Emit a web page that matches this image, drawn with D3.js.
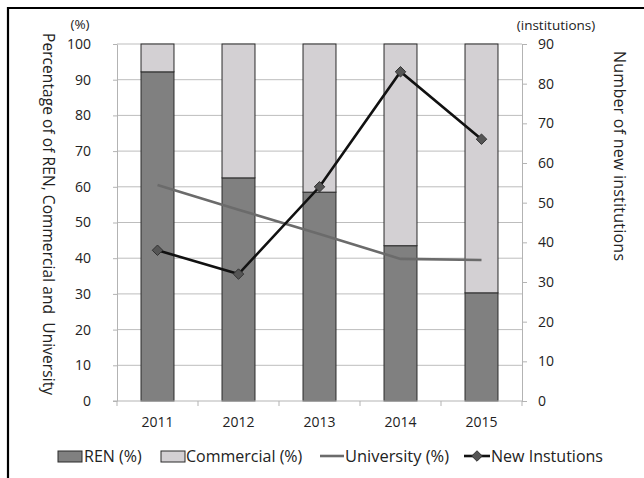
<!DOCTYPE html>
<html>
<head>
<meta charset="utf-8">
<script src="https://cdn.jsdelivr.net/npm/d3@7"></script>
<style>
  body { margin: 0; background: #fff; }
  svg { display: block; font-family: "Open Sans", sans-serif; }
  .axis text { fill: #222; font-size: 14px; font-family: "Open Sans", sans-serif; }
  .axis line, .axis path { stroke: #b3b3b3; }
</style>
</head>
<body>
<svg width="644" height="478"></svg>
<script>
// Data
var years = ["2011", "2012", "2013", "2014", "2015"];
var renPct = [92.2, 62.5, 58.5, 43.5, 30.3];
var commercialPct = [7.8, 37.5, 41.5, 56.5, 69.7];
var universityPct = [60.5, 53.6, 46.8, 39.8, 39.5];
var newInstitutions = [38, 32, 54, 83, 66];
var leftTicks = [0, 10, 20, 30, 40, 50, 60, 70, 80, 90, 100];
var rightTicks = [0, 10, 20, 30, 40, 50, 60, 70, 80, 90];

var svg = d3.select("svg"),
    width = +svg.attr("width"),
    height = +svg.attr("height");

var margin = {left: 117, right: 122, top: 44, bottom: 77};
var x0 = margin.left, x1 = width - margin.right,
    y0 = height - margin.bottom, y1 = margin.top;

// frame (left + top edges visible)
svg.append("line").attr("x1", 8).attr("x2", 8).attr("y1", 7).attr("y2", height)
  .attr("stroke", "#000").attr("stroke-width", 2.2);
svg.append("line").attr("x1", 7).attr("x2", width).attr("y1", 8).attr("y2", 8)
  .attr("stroke", "#000").attr("stroke-width", 2.2);

var x = d3.scaleBand().domain(years).range([x0, x1])
    .paddingInner(0.593).paddingOuter(0.2965);
var y = d3.scaleLinear().domain([0, 100]).range([y0, y1]);
var y2 = d3.scaleLinear().domain([0, 90]).range([y0, y1]);

// gridlines
svg.append("g").selectAll("line")
  .data(leftTicks.slice(1))
  .enter().append("line")
    .attr("x1", x0).attr("x2", x1)
    .attr("y1", function(d) { return y(d); })
    .attr("y2", function(d) { return y(d); })
    .attr("stroke", "#bdbdbd").attr("stroke-width", 1);

// left axis
svg.append("g").attr("class", "axis")
  .attr("transform", "translate(" + x0 + ",0)")
  .call(d3.axisLeft(y).tickValues(leftTicks).tickSize(4).tickPadding(22).tickSizeOuter(0));

// right axis
svg.append("g").attr("class", "axis")
  .attr("transform", "translate(" + x1 + ",0)")
  .call(d3.axisRight(y2).tickValues(rightTicks).tickSize(5).tickPadding(11).tickSizeOuter(0));

// stacked bars
var bars = svg.append("g");
bars.selectAll("rect.ren")
  .data(years)
  .enter().append("rect")
    .attr("class", "ren")
    .attr("x", function(d) { return x(d); })
    .attr("width", x.bandwidth())
    .attr("y", function(d, i) { return y(renPct[i]); })
    .attr("height", function(d, i) { return y0 - y(renPct[i]); })
    .attr("fill", "#808080").attr("stroke", "#2b2b2b").attr("stroke-width", 1);
bars.selectAll("rect.com")
  .data(years)
  .enter().append("rect")
    .attr("class", "com")
    .attr("x", function(d) { return x(d); })
    .attr("width", x.bandwidth())
    .attr("y", function(d, i) { return y(renPct[i] + commercialPct[i]); })
    .attr("height", function(d, i) { return y(renPct[i]) - y(renPct[i] + commercialPct[i]); })
    .attr("fill", "#d3d0d3").attr("stroke", "#2b2b2b").attr("stroke-width", 1);

// x axis
var step = x.step();
var xb = svg.append("g").attr("class", "axis");
xb.append("line").attr("x1", x0 - 4).attr("x2", x1).attr("y1", y0).attr("y2", y0)
  .attr("stroke", "#b3b3b3");
xb.selectAll("line.tk")
  .data(d3.range(years.length + 1))
  .enter().append("line")
    .attr("class", "tk")
    .attr("x1", function(i) { return x0 + i * step; })
    .attr("x2", function(i) { return x0 + i * step; })
    .attr("y1", y0).attr("y2", y0 + 5);
xb.selectAll("text")
  .data(years)
  .enter().append("text")
    .attr("x", function(d) { return x(d) + x.bandwidth() / 2; })
    .attr("y", y0 + 26)
    .attr("text-anchor", "middle")
    .text(function(d) { return d; });

// university line
var cx = function(d, i) { return x(years[i]) + x.bandwidth() / 2; };
svg.append("path")
  .datum(universityPct)
  .attr("d", d3.line().x(cx).y(function(d) { return y(d); }))
  .attr("fill", "none").attr("stroke", "#6b6b6b").attr("stroke-width", 2.6);

// new institutions line
svg.append("path")
  .datum(newInstitutions)
  .attr("d", d3.line().x(cx).y(function(d) { return y2(d); }))
  .attr("fill", "none").attr("stroke", "#111").attr("stroke-width", 2.6);

var diamond = d3.symbol().type(d3.symbolDiamond2).size(70);
svg.append("g").selectAll("path")
  .data(newInstitutions)
  .enter().append("path")
    .attr("d", diamond)
    .attr("transform", function(d, i) { return "translate(" + cx(d, i) + "," + y2(d) + ")"; })
    .attr("fill", "#555").attr("stroke", "#333").attr("stroke-width", 1);

// unit labels
svg.append("text").attr("x", 80).attr("y", 29).attr("text-anchor", "middle")
  .attr("font-size", 13.5).attr("fill", "#222").text("(%)");
svg.append("text").attr("x", 556).attr("y", 30).attr("text-anchor", "middle")
  .attr("font-size", 13.5).attr("fill", "#222").text("(institutions)");

// axis titles (rotated clockwise)
svg.append("text")
  .attr("transform", "translate(43,214) rotate(90)")
  .attr("text-anchor", "middle")
  .attr("font-size", 15.5).attr("fill", "#222")
  .attr("textLength", 362).attr("lengthAdjust", "spacing")
  .attr("xml:space", "preserve")
  .text("Percentage of of REN, Commercial and  University");
svg.append("text")
  .attr("transform", "translate(614,156) rotate(90)")
  .attr("text-anchor", "middle")
  .attr("font-size", 16).attr("fill", "#222")
  .attr("textLength", 210).attr("lengthAdjust", "spacing")
  .text("Number of new institutions");

// legend
var legend = svg.append("g").attr("font-size", 16).attr("fill", "#222");
legend.append("rect").attr("x", 58).attr("y", 451).attr("width", 24).attr("height", 11)
  .attr("fill", "#808080").attr("stroke", "#2b2b2b");
legend.append("text").attr("x", 84).attr("y", 462).text("REN (%)");
legend.append("rect").attr("x", 161).attr("y", 451).attr("width", 24).attr("height", 11)
  .attr("fill", "#d3d0d3").attr("stroke", "#2b2b2b");
legend.append("text").attr("x", 186).attr("y", 462).text("Commercial (%)");
legend.append("line").attr("x1", 320).attr("x2", 344).attr("y1", 456).attr("y2", 456)
  .attr("stroke", "#6b6b6b").attr("stroke-width", 2.6);
legend.append("text").attr("x", 345).attr("y", 462)
  .attr("textLength", 104).attr("lengthAdjust", "spacingAndGlyphs").text("University (%)");
legend.append("line").attr("x1", 464).attr("x2", 490).attr("y1", 456).attr("y2", 456)
  .attr("stroke", "#111").attr("stroke-width", 2.6);
legend.append("path").attr("d", diamond)
  .attr("transform", "translate(477,456)")
  .attr("fill", "#555").attr("stroke", "#333");
legend.append("text").attr("x", 491).attr("y", 462)
  .attr("textLength", 112).attr("lengthAdjust", "spacingAndGlyphs").text("New Instutions");
</script>
</body>
</html>
